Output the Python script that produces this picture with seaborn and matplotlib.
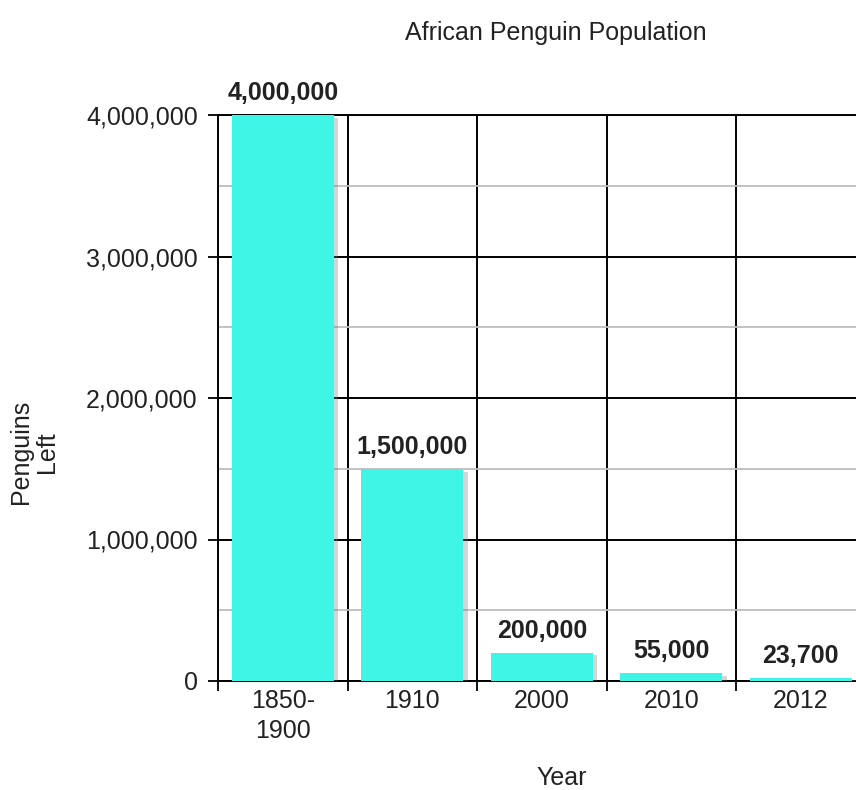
import matplotlib
matplotlib.use("Agg")
import matplotlib.pyplot as plt
import matplotlib.patheffects as pe
from matplotlib.ticker import FixedLocator, MultipleLocator, StrMethodFormatter
import seaborn as sns
import pandas as pd

years = ["1850-\n1900", "1910", "2000", "2010", "2012"]
penguins = [4000000, 1500000, 200000, 55000, 23700]
value_labels = ["4,000,000", "1,500,000", "200,000", "55,000", "23,700"]
y_ticks = [0, 1000000, 2000000, 3000000, 4000000]

sns.set_theme(style="white")
plt.rcParams["font.family"] = ["Liberation Sans", "DejaVu Sans"]

TEXT = "#222222"
BAR = "#3ff5e6"
FS = 18

fig = plt.figure(figsize=(8.56, 7.9), dpi=100)
W, H = 856, 790
ax = fig.add_axes([218 / W, 1 - 681 / H, 647.5 / W, 566 / H])

df = pd.DataFrame({"Year": years, "Penguins": penguins})
sns.barplot(data=df, x="Year", y="Penguins", color=BAR, saturation=1,
            width=0.79, ax=ax, zorder=3, linewidth=0, edgecolor=BAR)

# soft drop shadow on each bar
for patch in ax.patches:
    patch.set_path_effects([
        pe.SimplePatchShadow(offset=(3, -2), shadow_rgbFace="#777777", alpha=0.3),
        pe.Normal(),
    ])

ax.set_xlim(-0.5, 4.5)
ax.set_ylim(0, 4000000)

# y axis: labelled ticks every million, light lines at half-millions
ax.yaxis.set_major_locator(FixedLocator(y_ticks))
ax.yaxis.set_minor_locator(MultipleLocator(500000))
ax.yaxis.set_major_formatter(StrMethodFormatter("{x:,.0f}"))

# x axis: labels at bar centres, separators at category boundaries
ax.xaxis.set_minor_locator(FixedLocator([-0.5, 0.5, 1.5, 2.5, 3.5, 4.5]))

ax.set_axisbelow(True)
ax.grid(axis="y", which="major", color="black", linewidth=1.4, zorder=1)
ax.grid(axis="y", which="minor", color="#bdbdbd", linewidth=1.3, zorder=0)
ax.grid(axis="x", which="minor", color="black", linewidth=1.4, zorder=1)
ax.grid(axis="x", which="major", visible=False)

ax.tick_params(axis="y", which="major", direction="out", length=7.5, width=1.3,
               color="black", pad=7, labelsize=FS, labelcolor=TEXT, left=True)
ax.tick_params(axis="y", which="minor", length=0)
ax.tick_params(axis="x", which="major", length=0, pad=6, labelsize=FS,
               labelcolor=TEXT)
ax.tick_params(axis="x", which="minor", direction="out", length=7.5, width=1.3,
               color="black", bottom=True)
for lbl in ax.get_xticklabels():
    lbl.set_linespacing(1.3)

for side in ["left", "bottom", "top"]:
    ax.spines[side].set_visible(True)
    ax.spines[side].set_color("black")
    ax.spines[side].set_linewidth(1.4)
ax.spines["right"].set_visible(False)

ax.set_xlabel("")
ax.set_ylabel("")

for i, (v, lab) in enumerate(zip(penguins, value_labels)):
    ax.annotate(lab, (i, v), xytext=(0, 7), textcoords="offset points",
                ha="center", va="bottom", fontsize=FS, fontweight="bold",
                color=TEXT, zorder=5)

fig.text(556 / W, 1 - 33 / H, "African Penguin Population", ha="center",
         va="center", fontsize=FS, color=TEXT)
fig.text(562 / W, 1 - 778 / H, "Year", ha="center", va="center",
         fontsize=FS, color=TEXT)
fig.text(34 / W, 1 - 452 / H, "Penguins\nLeft", ha="center", va="center",
         rotation=90, multialignment="center", fontsize=FS, color=TEXT,
         linespacing=1.15)

fig.savefig("out.png", dpi=100)
